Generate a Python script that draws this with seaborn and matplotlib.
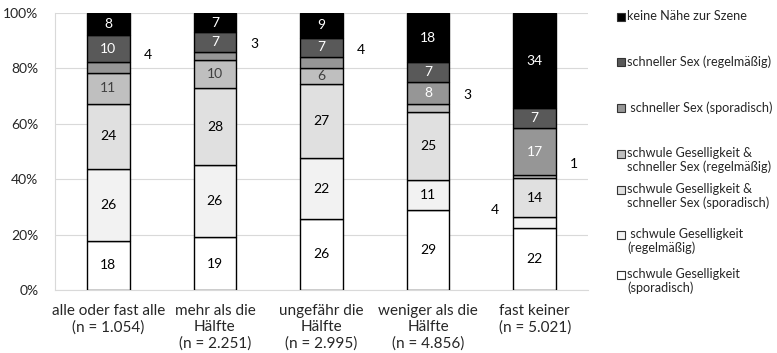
import numpy as np
import matplotlib
matplotlib.use("Agg")
import matplotlib.pyplot as plt
import seaborn as sns
from matplotlib.patches import Rectangle

# categories (x axis)
categories = [
    "alle oder fast alle\n(n = 1.054)",
    "mehr als die\nHälfte\n(n = 2.251)",
    "ungefähr die\nHälfte\n(n = 2.995)",
    "weniger als die\nHälfte\n(n = 4.856)",
    "fast keiner\n(n = 5.021)",
]

# series, bottom to top (rounded percent as printed)
g_spor = [18, 19, 26, 29, 22]
g_regel = [26, 26, 22, 11, 4]
gs_spor = [24, 28, 27, 25, 14]
gs_regel = [11, 10, 6, 3, 1]
s_spor = [4, 3, 4, 8, 17]
s_regel = [10, 7, 7, 7, 7]
keine = [8, 7, 9, 18, 34]

series_names = [
    "schwule Geselligkeit\n(sporadisch)",
    " schwule Geselligkeit\n(regelmäßig)",
    "schwule Geselligkeit &\nschneller Sex (sporadisch)",
    "schwule Geselligkeit &\nschneller Sex (regelmäßig)",
    " schneller Sex (sporadisch)",
    "schneller Sex (regelmäßig)",
    "keine Nähe zur Szene",
]
series_values = [g_spor, g_regel, gs_spor, gs_regel, s_spor, s_regel, keine]
colors = ["#ffffff", "#f2f2f2", "#e0e0e0", "#bfbfbf", "#969696", "#595959", "#000000"]
text_colors = ["black", "black", "black", "#404040", "white", "white", "white"]

# labels drawn beside the bar instead of inside: (series index, bar index) -> side
outside = {(4, 0): 1, (4, 1): 1, (4, 2): 1, (3, 3): 1, (1, 4): -1, (3, 4): 1}

sns.set_theme(style="white")
plt.rcParams["font.family"] = ["Lato", "DejaVu Sans"]

fig = plt.figure(figsize=(7.77, 3.53), dpi=100)
ax = fig.add_axes([0.0708, 0.1785, 0.686, 0.7845])

# 100% stacked: scale each bar so it fills the axis
totals = np.sum(np.array(series_values, dtype=float), axis=0)

xpos = np.arange(len(categories))
bottom = np.zeros(len(categories))
for si, (vals, col, tcol) in enumerate(zip(series_values, colors, text_colors)):
    vals = np.array(vals, dtype=float)
    heights = vals / totals * 100
    sns.barplot(x=xpos, y=heights, bottom=bottom, color=col, saturation=1,
                width=0.4, edgecolor="black", linewidth=1.0, ax=ax,
                native_scale=True, zorder=3)
    for bi, v in enumerate(vals):
        yc = bottom[bi] + heights[bi] / 2
        if (si, bi) in outside:
            side = outside[(si, bi)]
            ax.text(bi + side * 0.37, yc + 4.5, f"{int(v)}", ha="center",
                    va="center", color="black", fontsize=10)
        else:
            ax.text(bi, yc, f"{int(v)}", ha="center", va="center",
                    color=tcol, fontsize=10, zorder=4)
    bottom += heights

ax.set_xlim(-0.5, len(categories) - 0.5)
ax.set_ylim(0, 100)
ax.set_yticks(np.arange(0, 101, 20))
ax.set_yticklabels([f"{t}%" for t in range(0, 101, 20)], fontsize=10)
ax.set_xticks(xpos)
ax.set_xticklabels(categories, linespacing=1.2, fontsize=11)
ax.set_xticks(np.arange(-0.5, len(categories)), minor=True)
ax.tick_params(axis="x", which="major", length=0, pad=10)
ax.tick_params(axis="x", which="minor", length=5, color="#d9d9d9", width=0.8, direction="out")
ax.tick_params(axis="y", length=0, pad=12)
ax.set_xlabel("")
ax.set_ylabel("")
ax.yaxis.grid(True, color="#d9d9d9", linewidth=0.8)
ax.set_axisbelow(True)
for s in ["top", "right"]:
    ax.spines[s].set_visible(False)
for s in ["left", "bottom"]:
    ax.spines[s].set_color("#d9d9d9")
    ax.spines[s].set_linewidth(0.8)

# legend, placed as in the original (top to bottom)
legend_y = [17, 62, 108, 154, 190, 235, 275]  # first-line centres in pixels
for name, col, ypx in zip(series_names[::-1], colors[::-1], legend_y):
    yf = 1 - ypx / 353
    fig.patches.append(Rectangle((617 / 777, yf - 4 / 353), 8 / 777, 8 / 353,
                                 transform=fig.transFigure, facecolor=col,
                                 edgecolor="#333333", linewidth=0.8))
    fig.text(627 / 777, yf + 7 / 353, name, ha="left", va="top",
             fontsize=9.1, linespacing=1.1)

fig.savefig("out.png", dpi=100)
